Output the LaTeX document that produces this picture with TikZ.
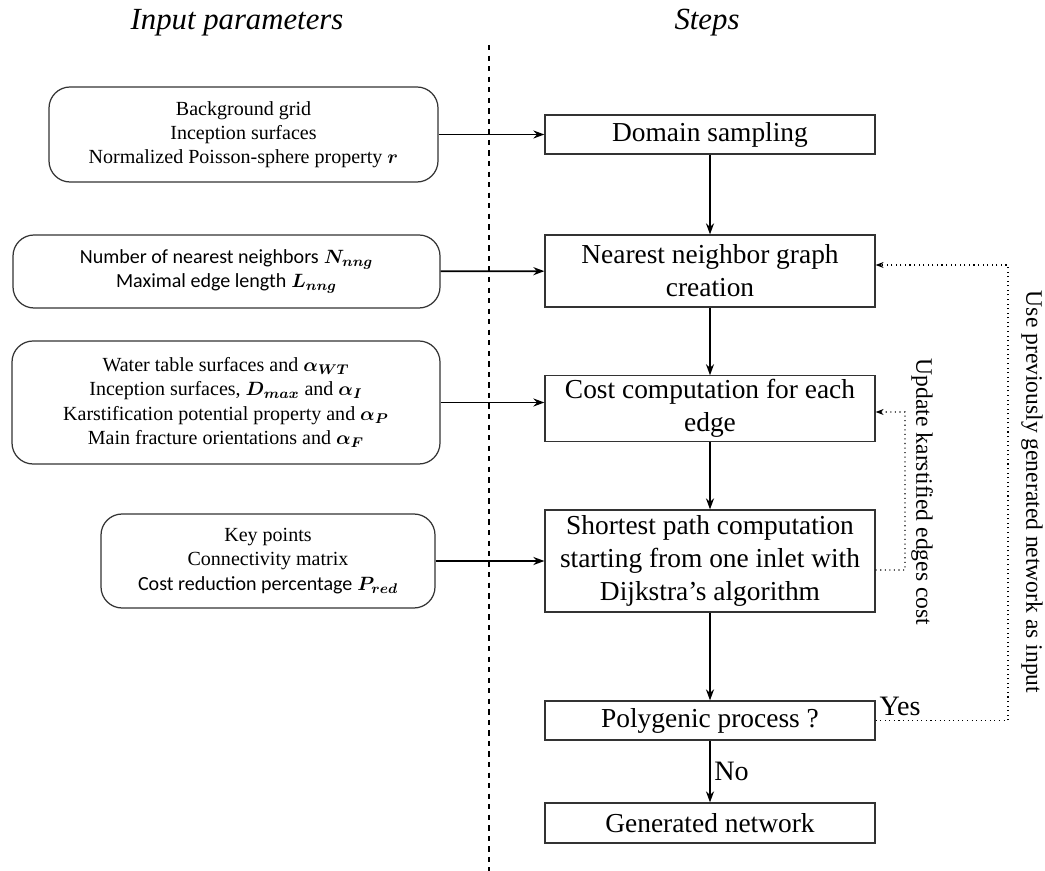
\documentclass[tikz,border=0pt]{standalone}
\usepackage{amsmath}
\usepackage{bm}
\usepackage{fontspec}
\setmainfont{Liberation Serif}
\newfontfamily\calib{Carlito}
\usetikzlibrary{arrows.meta}

\tikzset{
  stepbox/.style={draw=black!80, line width=0.7pt, align=center, inner sep=2pt,
    font=\fontsize{15.6}{18.8}\selectfont},
  parbox/.style={draw=black!80, line width=0.7pt, rounded corners=12pt, align=center,
    font=\fontsize{11.4}{13.8}\selectfont},
  flow/.style={line width=1pt, -{Stealth[length=2.2mm,width=1.6mm]}},
  feed/.style={line width=0.6pt, dotted, -{Stealth[length=1.6mm,width=1.2mm]}},
  head/.style={font=\fontsize{17.5}{21}\selectfont\itshape},
  side/.style={font=\fontsize{13.4}{16}\selectfont},
  answer/.style={font=\fontsize{16}{19}\selectfont},
}

\begin{document}
\begin{tikzpicture}
\useasboundingbox (0,0) rectangle (20.9,-17.42);
% column titles
\node[head] (tinput) at (4.74,-0.46) {Input parameters};
\node[head] (tsteps) at (14.14,-0.46) {Steps};
\draw[dashed, line width=0.7pt] (9.78,-0.9) -- (9.78,-17.42);
% steps
\node[stepbox, minimum width=6.6cm, minimum height=0.78cm] (dom) at (14.2,-2.69) {Domain sampling};
\node[stepbox, minimum width=6.6cm, minimum height=1.44cm] (nng) at (14.2,-5.42) {Nearest neighbor graph\\creation};
\node[stepbox, minimum width=6.6cm, minimum height=1.26cm] (cost) at (14.2,-8.17) {Cost computation for each\\edge};
\node[stepbox, minimum width=6.6cm, minimum height=2.04cm] (path) at (14.2,-11.22) {Shortest path computation\\starting from one inlet with\\Dijkstra's algorithm};
\node[stepbox, minimum width=6.6cm, minimum height=0.78cm] (poly) at (14.2,-14.41) {Polygenic process ?};
\node[stepbox, minimum width=6.6cm, minimum height=0.8cm] (gen) at (14.2,-16.46) {Generated network};
% input parameters
\node[parbox, minimum width=7.78cm, minimum height=1.9cm] (grid) at (4.87,-2.69) {Background grid\\Inception surfaces\\Normalized Poisson-sphere property $\bm{r}$};
\node[parbox, minimum width=8.54cm, minimum height=1.46cm] (graph) at (4.53,-5.43) {{\calib Number of nearest neighbors} $\bm{N_{nng}}$\\{\calib Maximal edge length} $\bm{L_{nng}}$};
\node[parbox, minimum width=8.56cm, minimum height=2.46cm] (fact) at (4.52,-8.05) {Water table surfaces and $\bm{\alpha_{WT}}$\\Inception surfaces, $\bm{D_{max}}$ and $\bm{\alpha_I}$\\Karstification potential property and $\bm{\alpha_P}$\\Main fracture orientations and $\bm{\alpha_F}$};
\node[parbox, minimum width=6.68cm, minimum height=1.88cm] (keys) at (5.36,-11.22) {Key points\\Connectivity matrix\\{\calib Cost reduction percentage} $\bm{P_{red}}$};
% main flow
\draw[flow] (dom) -- (nng);
\draw[flow] (nng) -- (cost);
\draw[flow] (cost) -- (path);
\draw[flow] (path) -- (poly);
\draw[flow] (poly) -- node[answer, right, inner sep=2pt] (no) {No} (gen);
% inputs to steps
\draw[flow] (grid) -- (dom);
\draw[flow] (graph) -- (nng);
\draw[flow] (fact.east) -- (fact.east -| cost.west);
\draw[flow] (keys) -- (path);
% feedback loops
\coordinate (up1) at (18.1,-11.4);
\coordinate (up2) at (18.1,-8.24);
\draw[feed] ([yshift=-0.18cm]path.east) -- (up1) -- (up2) -- (up2 -| cost.east);
\node[side, rotate=-90] (upd) at (18.44,-9.84) {Update karstified edges cost};
\coordinate (use1) at (20.16,-14.41);
\coordinate (use2) at (20.16,-5.3);
\draw[feed] (poly.east) -- (use1) -- (use2) -- (use2 -| nng.east);
\node[side, rotate=-90] (use) at (20.64,-9.84) {Use previously generated network as input};
\node[answer, anchor=south west, inner sep=1pt] (yes) at (17.55,-14.35) {Yes};
\end{tikzpicture}
\end{document}
